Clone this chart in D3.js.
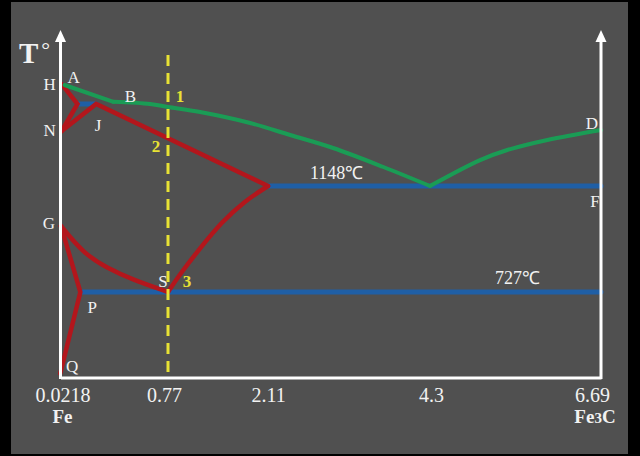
<!DOCTYPE html>
<html><head><meta charset="utf-8">
<script src="https://cdn.jsdelivr.net/npm/d3@7"></script>
<style>
html,body{margin:0;padding:0;background:#000;}
svg{display:block;}
text{font-family:"Liberation Serif","Times New Roman",serif;fill:#f2f2f2;}
</style></head>
<body><svg id="c" width="640" height="456"></svg>
<script>
// ---- data (carbon wt%, schematic temperature °C) ----
const tickValues = [0.0218, 0.77, 2.11, 4.3, 6.69];
const tickLabels = ["0.0218", "0.77", "2.11", "4.3", "6.69"];
const tempAnchors = [0, 727, 912, 1148, 1394, 1495, 1538];
const isotherms = [1148, 727];

const liquidusAB = [[0.05, 1538], [0.39, 1500]];
const liquidusBC = [[0.39, 1500], [0.645, 1495], [0.77, 1484], [1.2, 1465], [1.87, 1424], [2.41, 1376], [2.99, 1318], [3.67, 1233], [4.3, 1148]];
const liquidusCD = [[4.3, 1148], [5.0, 1264], [5.38, 1309], [5.94, 1354], [6.69, 1398]];
const deltaHN = [[0.03, 1540], [0.14, 1495], [0.03, 1394]];
const solidusNJE = [[0.03, 1394], [0.27, 1495], [2.11, 1148]];
const peritecticLine = [[0.14, 1495], [0.27, 1495]];
const eutecticECF = [[2.11, 1148], [6.69, 1148]];
const eutectoidPSK = [[0.17, 727], [6.69, 727]];
const curveGS = [[0.025, 912], [0.18, 836], [0.345, 794], [0.526, 761], [0.77, 727]];
const curveES = [[0.77, 727], [0.93, 777], [1.2, 850], [1.49, 936], [1.8, 1060], [2.11, 1148]];
const lineGPQ = [[0.025, 912], [0.16, 727], [0.02, 34]];
const alloyX = 0.77;
const alloyT = [1606, 0];

const pts = {
  H: [0.03, 1540], A: [0.05, 1538], B: [0.39, 1500], J: [0.27, 1495], N: [0.03, 1394],
  D: [6.69, 1398], F: [6.69, 1148], G: [0.025, 912], S: [0.77, 727], P: [0.16, 727], Q: [0.02, 34]
};

// ---- drawing ----
const svg = d3.select("#c");
svg.append("rect").attr("x", 11).attr("y", 2).attr("width", 617).attr("height", 452).attr("fill", "#505050");

const x = d3.scaleLinear().domain(tickValues).range([60.5, 168, 268, 430, 601]);
const y = d3.scaleLinear().domain(tempAnchors).range([377.5, 292, 226, 186, 131, 104, 85]);

const lin = d3.line().x(d => x(d[0])).y(d => y(d[1]));
const crv = d3.line().x(d => x(d[0])).y(d => y(d[1])).curve(d3.curveCatmullRom.alpha(0.5));
const bas = d3.line().x(d => x(d[0])).y(d => y(d[1])).curve(d3.curveBasis);

const RED = "#b3161c", GREEN = "#1a9c55", BLUE = "#1f5fa6", YEL = "#e8e234";

// blue isotherm lines
[eutecticECF, eutectoidPSK, peritecticLine].forEach(d => {
  svg.append("path").attr("d", lin(d)).attr("fill", "none").attr("stroke", BLUE)
    .attr("stroke-width", 5).attr("stroke-linecap", "round");
});

// red lines
[[deltaHN, lin], [solidusNJE, lin], [curveGS, bas], [curveES, bas], [lineGPQ, lin]].forEach(([d, g]) => {
  svg.append("path").attr("d", g(d)).attr("fill", "none").attr("stroke", RED)
    .attr("stroke-width", 4.5).attr("stroke-linejoin", "miter").attr("stroke-linecap", "round");
});

// green liquidus
[[liquidusAB, lin], [liquidusBC, crv], [liquidusCD, crv]].forEach(([d, g]) => {
  svg.append("path").attr("d", g(d)).attr("fill", "none").attr("stroke", GREEN)
    .attr("stroke-width", 4).attr("stroke-linecap", "round").attr("stroke-linejoin", "round");
});

// yellow dashed alloy line
svg.append("line").attr("x1", x(alloyX)).attr("x2", x(alloyX))
  .attr("y1", y(alloyT[0])).attr("y2", y(alloyT[1]))
  .attr("stroke", YEL).attr("stroke-width", 3).attr("stroke-dasharray", "11,7");

// axes
const xAxis = d3.axisBottom(x).tickValues(tickValues).tickFormat((d, i) => tickLabels[i])
  .tickSize(0).tickSizeOuter(0).tickPadding(10);
const gx = svg.append("g").attr("transform", `translate(0,${y(0)})`).call(xAxis);
gx.select(".domain").attr("stroke", "#fff").attr("stroke-width", 3);
gx.selectAll(".tick text").attr("font-size", 20).attr("fill", "#f2f2f2")
  .attr("font-family", '"Liberation Serif","Times New Roman",serif')
  .attr("dx", (d, i) => [2, -4, 0, 1, -9][i]);

[x(tickValues[0]), x(tickValues[4])].forEach(ax => {
  svg.append("line").attr("x1", ax).attr("x2", ax).attr("y1", 40).attr("y2", y(0) + 1.5)
    .attr("stroke", "#fff").attr("stroke-width", 3);
  svg.append("path").attr("d", `M${ax},30L${ax - 5.5},42L${ax + 5.5},42Z`).attr("fill", "#fff");
});

// axis captions
svg.append("text").attr("x", x(tickValues[0]) + 2).attr("y", y(0) + 45).attr("text-anchor", "middle")
  .attr("font-size", 19).attr("font-weight", "bold").text("Fe");
const fc = svg.append("text").attr("x", x(tickValues[4]) - 6).attr("y", y(0) + 45).attr("text-anchor", "middle")
  .attr("font-size", 19).attr("font-weight", "bold");
fc.append("tspan").text("Fe");
fc.append("tspan").attr("font-size", 15).text("3");
fc.append("tspan").text("C");

const tt = svg.append("text").attr("x", 19).attr("y", 63).attr("font-size", 29);
tt.append("tspan").attr("font-weight", "bold").text("T");
tt.append("tspan").attr("font-size", 22).attr("dx", 3).attr("dy", -6).text("°");

// point labels
const lab = (p, dx, dy, t, opts = {}) => {
  const e = svg.append("text").attr("x", x(p[0]) + dx).attr("y", y(p[1]) + dy)
    .attr("font-size", opts.size || 17).attr("text-anchor", opts.anchor || "middle").text(t);
  if (opts.fill) e.style("fill", opts.fill);
  if (opts.bold) e.attr("font-weight", "bold");
  return e;
};
lab(pts.H, -12, 6, "H");
lab(pts.A, 9, -2, "A");
lab(pts.B, 17, 0, "B");
lab(pts.J, 2, 27, "J");
lab(pts.N, -12, 5, "N");
lab(pts.D, -9, -1, "D");
lab(pts.F, -6, 21, "F");
lab(pts.G, -12, 3, "G");
lab(pts.S, -5, -5, "S");
lab(pts.P, 12, 21, "P");
lab(pts.Q, 12, -2, "Q");
lab([alloyX, 1484], 12, -5, "1", { fill: YEL, bold: true });
lab([alloyX, 1345], -12, 10, "2", { fill: YEL, bold: true });
lab(pts.S, 19, -5, "3", { fill: YEL, bold: true });

svg.append("text").attr("x", x(2.11) + 42).attr("y", y(isotherms[0]) - 7).attr("font-size", 18)
  .text(isotherms[0] + "℃");
svg.append("text").attr("x", x(4.3) + 65).attr("y", y(isotherms[1]) - 8).attr("font-size", 18)
  .text(isotherms[1] + "℃");
</script></body></html>
